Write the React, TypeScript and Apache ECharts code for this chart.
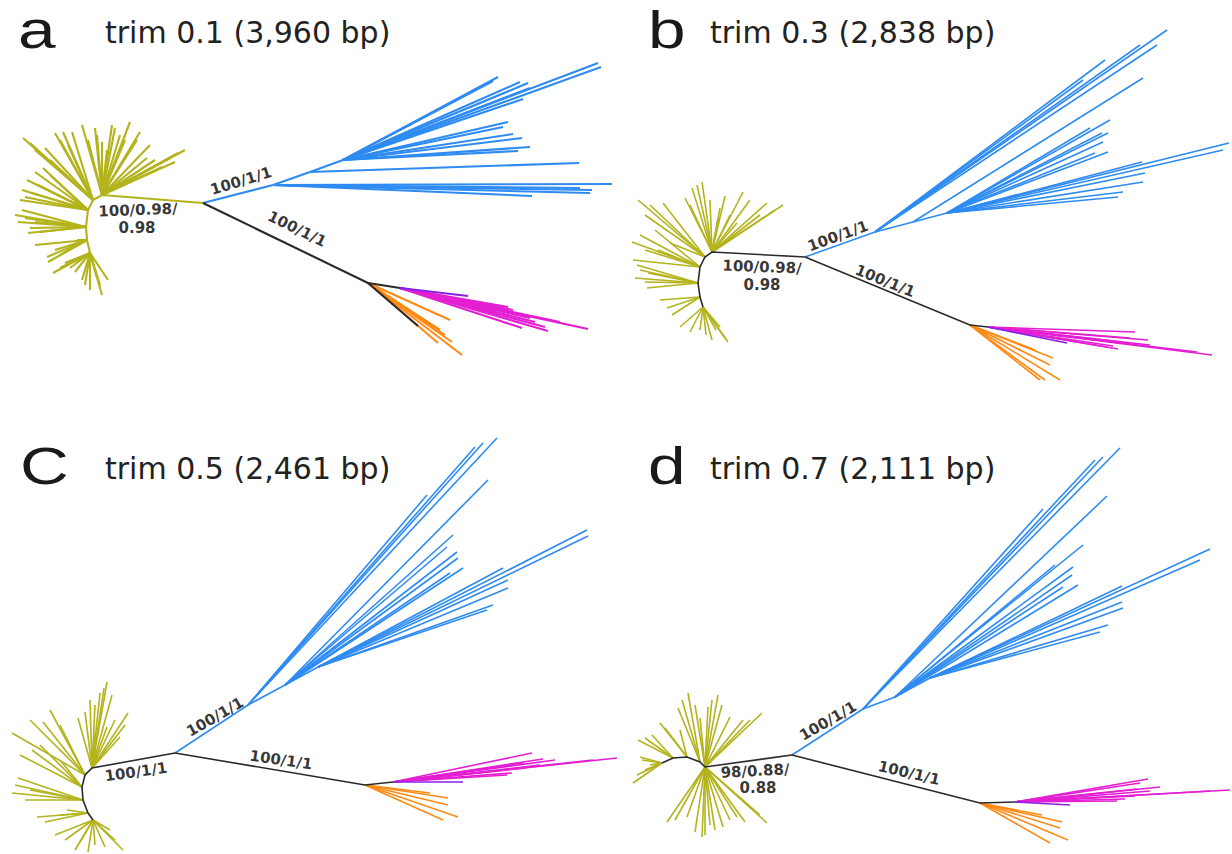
import React, { useEffect, useRef } from 'react';
import * as echarts from 'echarts';

// ---------- layout of the four panels (data ranges, image units) ----------
const PANEL_ORIGINS = [[0, 0], [616, 0], [0, 427], [616, 427]];
const PANEL_W = 616;
const PANEL_H = 427;
const PANEL_LETTERS = ['a', 'b', 'C', 'd'];
const PANEL_TITLES = ['trim 0.1 (3,960 bp)', 'trim 0.3 (2,838 bp)', 'trim 0.5 (2,461 bp)', 'trim 0.7 (2,111 bp)'];

const COLORS = {
  yellow: '#b3b31c',
  blue: '#2e8bf2',
  orange: '#ff8a14',
  pink: '#e41fd2',
  purple: '#8a1fe6',
  black: '#2a2a2a',
};

// ---------- panel a ----------
const A_MAIN = [203, 203];
const A_SPINE = [[102, 195], [93, 200], [88, 210], [86, 227], [87, 240], [90, 253]];
const A_YELLOW = [
  [0, 130, 122], [0, 140, 132], [0, 147, 158], [0, 185, 150], [0, 170, 158], [0, 162, 167], [0, 102, 142], [0, 107, 150],
  [0, 82, 125], [0, 97, 135], [0, 115, 128], [0, 125, 140], [0, 155, 160], [0, 178, 153], [0, 137, 140],
  [0, 120, 135], [0, 112, 125], [0, 150, 145], [0, 175, 162], [0, 95, 128], [0, 88, 140],
  [1, 55, 133], [1, 63, 132], [1, 72, 132], [1, 23, 138], [1, 45, 148], [1, 35, 150], [1, 50, 160],
  [1, 60, 140], [1, 30, 143], [1, 68, 145],
  [2, 43, 168], [2, 27, 180], [2, 32, 193], [2, 20, 200], [2, 38, 185], [2, 25, 197], [2, 50, 175], [2, 35, 172], [2, 22, 190],
  [3, 15, 215], [3, 22, 210], [3, 30, 228], [3, 28, 233], [3, 35, 222], [3, 40, 232], [3, 18, 222], [3, 25, 218],
  [4, 47, 257], [4, 77, 240], [4, 55, 250], [4, 48, 262], [4, 60, 255], [4, 35, 245],
  [5, 53, 273], [5, 65, 263], [5, 82, 280], [5, 102, 295], [5, 108, 280], [5, 97, 277], [5, 90, 290], [5, 75, 272],
  [5, 70, 268], [5, 85, 285], [5, 100, 285], [5, 60, 268],
];
const A_BLUE_NODES = [[273, 185], [310, 172], [343, 160]];
const A_BLUE = [
  [0, 612, 184], [0, 592, 190], [0, 590, 193], [0, 532, 196], [0, 580, 188],
  [1, 579, 163],
  [2, 508, 122], [2, 503, 127], [2, 513, 134], [2, 522, 138], [2, 530, 147], [2, 518, 151],
  [2, 498, 77], [2, 493, 81], [2, 520, 82], [2, 528, 83], [2, 530, 88], [2, 523, 99], [2, 598, 63], [2, 601, 67],
];
const A_PO = [368, 283];
const A_PINK_NODE = [400, 288];
const A_PINK = [[588, 329], [545, 327], [522, 328], [513, 310], [508, 307], [530, 318], [560, 322], [535, 322], [520, 315], [548, 331]];
const A_PURPLE = [[468, 296]];
const A_ORANGE = [[450, 320], [440, 330], [452, 342], [462, 355], [438, 343], [445, 335]];
const A_ORANGE_BLACK = [[418, 326]];
const A_LABELS = [['100/1/1', 241, 181, 17], ['100/0.98/', 138, 210, 2], ['0.98', 137, 228, 0], ['100/1/1', 297, 229, -26]];

// ---------- panel b ----------
const B_MAIN = [805, 257];
const B_SPINE = [[712, 252], [705, 257], [700, 267], [698, 283], [700, 297], [703, 307]];
const B_YELLOW = [
  [0, 702, 182], [0, 692, 188], [0, 720, 208], [0, 718, 218], [0, 743, 192], [0, 767, 203], [0, 783, 205], [0, 760, 215],
  [0, 737, 223], [0, 685, 198], [0, 697, 185], [0, 710, 200], [0, 725, 196], [0, 750, 200], [0, 775, 210], [0, 730, 215], [0, 690, 205],
  [1, 663, 203], [1, 638, 200], [1, 670, 243], [1, 650, 205], [1, 645, 215],
  [2, 655, 230], [2, 632, 242], [2, 658, 250], [2, 633, 260], [2, 640, 235], [2, 645, 250],
  [3, 640, 270], [3, 648, 273], [3, 635, 278], [3, 647, 288], [3, 637, 265], [3, 645, 282],
  [4, 667, 308], [4, 672, 315], [4, 660, 300],
  [5, 680, 327], [5, 700, 330], [5, 712, 340], [5, 728, 342], [5, 720, 327], [5, 690, 332], [5, 706, 335], [5, 716, 330], [5, 725, 338],
];
const B_BLUE_NODES = [[875, 232], [913, 222], [947, 213]];
const B_BLUE = [
  [0, 1167, 30], [0, 1157, 45], [0, 1140, 45], [0, 1105, 60], [0, 1083, 80],
  [1, 1143, 78],
  [2, 1110, 120], [2, 1090, 128], [2, 1102, 133], [2, 1108, 133], [2, 1103, 142], [2, 1108, 152], [2, 1095, 153],
  [2, 1142, 162], [2, 1145, 173], [2, 1143, 182], [2, 1123, 192], [2, 1118, 197], [2, 1229, 143], [2, 1223, 150],
];
const B_PO = [970, 325];
const B_PINK_NODE = [988, 327];
const B_PINK = [[1135, 332], [1148, 340], [1212, 355], [1197, 352], [1113, 346], [1107, 347], [1122, 342], [1150, 345], [1130, 338], [1118, 349]];
const B_PURPLE = [[1067, 343]];
const B_ORANGE = [[1053, 358], [1050, 365], [1060, 380], [1040, 380], [1045, 380], [1035, 350]];
const B_ORANGE_BLACK: number[][] = [];
const B_LABELS = [['100/1/1', 838, 236, 20], ['100/0.98/', 762, 267, -2], ['0.98', 762, 285, 0], ['100/1/1', 885, 281, -22]];

// ---------- panel c ----------
const C_MAIN = [175, 753];
const C_SPINE = [[92, 768], [85, 775], [82, 787], [83, 800], [88, 813], [93, 820]];
const C_YELLOW = [
  [0, 107, 682], [0, 90, 700], [0, 100, 693], [0, 128, 713], [0, 120, 737], [0, 107, 727], [0, 95, 733], [0, 78, 718],
  [0, 104, 688], [0, 112, 695], [0, 95, 705], [0, 85, 712], [0, 125, 725], [0, 115, 720],
  [1, 50, 710], [1, 43, 722], [1, 12, 733], [1, 30, 720], [1, 60, 725],
  [2, 32, 750], [2, 60, 760], [2, 40, 745], [2, 20, 755],
  [3, 18, 778], [3, 12, 793], [3, 25, 800], [3, 15, 785], [3, 30, 790],
  [4, 37, 817], [4, 67, 810], [4, 45, 822], [4, 60, 815],
  [5, 55, 835], [5, 75, 850], [5, 88, 852], [5, 105, 847], [5, 123, 850], [5, 110, 830], [5, 65, 840], [5, 95, 845], [5, 115, 840], [5, 80, 842],
];
const C_BLUE_NODES = [[248, 705], [285, 685], [318, 667]];
const C_BLUE = [
  [0, 497, 438], [0, 483, 443], [0, 475, 447], [0, 427, 495],
  [1, 488, 480], [1, 453, 535], [1, 447, 547], [1, 457, 552], [1, 458, 558], [1, 463, 568], [1, 450, 573],
  [2, 587, 530], [2, 588, 536], [2, 503, 568], [2, 508, 580], [2, 508, 588], [2, 493, 605], [2, 487, 610],
];
const C_PO = [365, 785];
const C_PINK_NODE = [393, 782];
const C_PINK = [[532, 753], [543, 759], [617, 758], [593, 760], [523, 763], [512, 773], [507, 775], [555, 760], [540, 765], [525, 768]];
const C_PURPLE = [[463, 782]];
const C_ORANGE = [[448, 798], [448, 805], [458, 817], [443, 820], [430, 793]];
const C_ORANGE_BLACK: number[][] = [];
const C_LABELS = [['100/1/1', 215, 717, 30], ['100/1/1', 136, 772, 8], ['100/1/1', 281, 760, -8]];

// ---------- panel d ----------
const D_MAIN = [792, 755];
const D_SPINE = [[705, 767], [700, 762], [687, 757], [673, 758], [662, 763]];
const D_YELLOW = [
  [0, 718, 695], [0, 708, 707], [0, 762, 713], [0, 743, 720], [0, 730, 717], [0, 700, 718], [0, 702, 837], [0, 723, 827],
  [0, 737, 817], [0, 767, 823], [0, 710, 825], [0, 753, 810], [0, 687, 817], [0, 667, 822],
  [0, 712, 700], [0, 722, 705], [0, 750, 720], [0, 695, 705], [0, 715, 830], [0, 695, 832], [0, 730, 820], [0, 745, 822],
  [0, 760, 815], [0, 675, 820], [0, 705, 835],
  [1, 688, 693], [1, 678, 708], [1, 682, 700],
  [2, 680, 730], [2, 660, 723], [2, 665, 728],
  [3, 652, 735], [3, 638, 740], [3, 645, 738],
  [4, 640, 757], [4, 633, 783], [4, 645, 770], [4, 650, 765], [4, 637, 775], [4, 642, 760],
];
const D_BLUE_NODES = [[863, 709], [895, 697], [930, 678]];
const D_BLUE = [
  [0, 1120, 448], [0, 1103, 457], [0, 1095, 460], [0, 1043, 509],
  [1, 1107, 496], [1, 1083, 545], [1, 1055, 565], [1, 1073, 567], [1, 1072, 575], [1, 1078, 585], [1, 1063, 587],
  [2, 1210, 549], [2, 1200, 560], [2, 1122, 586], [2, 1122, 602], [2, 1123, 608], [2, 1108, 625], [2, 1100, 632],
];
const D_PO = [980, 803];
const D_PINK_NODE = [1015, 802];
const D_PINK = [[1148, 779], [1160, 787], [1230, 790], [1210, 791], [1137, 789], [1125, 799], [1117, 801], [1140, 783], [1150, 791], [1135, 796]];
const D_PURPLE = [[1070, 805]];
const D_ORANGE = [[1062, 822], [1060, 828], [1068, 840], [1050, 843], [1042, 815]];
const D_ORANGE_BLACK: number[][] = [];
const D_LABELS = [['100/1/1', 828, 721, 30], ['98/0.88/', 755, 771, 3], ['0.88', 758, 788, 0], ['100/1/1', 909, 773, -13]];

const PANEL_SPECS = [
  { main: A_MAIN, spine: A_SPINE, spineColor: COLORS.yellow, yellow: A_YELLOW, blueNodes: A_BLUE_NODES, blue: A_BLUE, po: A_PO, pinkNode: A_PINK_NODE, pink: A_PINK, purple: A_PURPLE, orange: A_ORANGE, orangeBlack: A_ORANGE_BLACK, labels: A_LABELS, width: 2.1 },
  { main: B_MAIN, spine: B_SPINE, spineColor: COLORS.black, yellow: B_YELLOW, blueNodes: B_BLUE_NODES, blue: B_BLUE, po: B_PO, pinkNode: B_PINK_NODE, pink: B_PINK, purple: B_PURPLE, orange: B_ORANGE, orangeBlack: B_ORANGE_BLACK, labels: B_LABELS, width: 1.6 },
  { main: C_MAIN, spine: C_SPINE, spineColor: COLORS.black, yellow: C_YELLOW, blueNodes: C_BLUE_NODES, blue: C_BLUE, po: C_PO, pinkNode: C_PINK_NODE, pink: C_PINK, purple: C_PURPLE, orange: C_ORANGE, orangeBlack: C_ORANGE_BLACK, labels: C_LABELS, width: 1.6 },
  { main: D_MAIN, spine: D_SPINE, spineColor: COLORS.black, yellow: D_YELLOW, blueNodes: D_BLUE_NODES, blue: D_BLUE, po: D_PO, pinkNode: D_PINK_NODE, pink: D_PINK, purple: D_PURPLE, orange: D_ORANGE, orangeBlack: D_ORANGE_BLACK, labels: D_LABELS, width: 1.6 },
];

const LETTER_X = [18, 648, 20, 648];
const TITLE_X = [105, 710, 105, 710];
const ROW_SHIFT = [0, 0, 436, 436];

function linesSeries(i: number, data: any[], color: string, width: number, z: number, polyline = false) {
  return {
    type: 'lines',
    coordinateSystem: 'cartesian2d',
    xAxisIndex: i,
    yAxisIndex: i,
    polyline,
    silent: true,
    z,
    lineStyle: { color, width, opacity: 1, curveness: 0 },
    data,
  };
}

function buildOption() {
  const grid: any[] = [];
  const xAxis: any[] = [];
  const yAxis: any[] = [];
  const series: any[] = [];
  const title: any[] = [];
  const graphic: any[] = [];

  PANEL_SPECS.forEach((p, i) => {
    const [ox, oy] = PANEL_ORIGINS[i];
    grid.push({ left: ox, top: oy, width: PANEL_W, height: PANEL_H, containLabel: false });
    xAxis.push({ type: 'value', gridIndex: i, min: ox, max: ox + PANEL_W, show: false });
    yAxis.push({ type: 'value', gridIndex: i, min: oy, max: oy + PANEL_H, inverse: true, show: false });

    const w = p.width;
    series.push(linesSeries(i, p.yellow.map(([s, x, y]) => ({ coords: [p.spine[s], [x, y]] })), COLORS.yellow, w, 2));
    series.push(linesSeries(i, [{ coords: [p.main, ...p.spine] }], p.spineColor, w, 3, true));
    series.push(linesSeries(i, [{ coords: [p.main, ...p.blueNodes] }], COLORS.blue, w, 2, true));
    series.push(linesSeries(i, p.blue.map(([s, x, y]) => ({ coords: [p.blueNodes[s], [x, y]] })), COLORS.blue, w, 2));
    series.push(linesSeries(i, p.orange.map(([x, y]) => ({ coords: [p.po, [x, y]] })), COLORS.orange, w, 2));
    series.push(linesSeries(i, p.pink.map(([x, y]) => ({ coords: [p.pinkNode, [x, y]] })), COLORS.pink, w, 2));
    series.push(linesSeries(i, p.purple.map(([x, y]) => ({ coords: [p.pinkNode, [x, y]] })), COLORS.purple, w, 3));
    const blackData = [
      { coords: [p.main, p.po] },
      { coords: [p.po, p.pinkNode] },
      ...p.orangeBlack.map(([x, y]) => ({ coords: [p.po, [x, y]] })),
    ];
    series.push(linesSeries(i, blackData, COLORS.black, w, 4));
    series.push({
      type: 'scatter',
      xAxisIndex: i,
      yAxisIndex: i,
      symbolSize: 1,
      silent: true,
      z: 10,
      itemStyle: { color: 'rgba(0,0,0,0)' },
      label: {
        show: true,
        position: 'inside',
        formatter: '{b}',
        fontFamily: 'DejaVu Sans',
        fontWeight: 'bold',
        fontSize: 15,
        color: '#000',
      },
      data: p.labels.map(([t, x, y, r]) => ({ name: t, value: [x, y], label: { rotate: r } })),
    });

    graphic.push({
      type: 'text',
      x: LETTER_X[i],
      y: ROW_SHIFT[i] + 30,
      scaleX: 1.3,
      silent: true,
      style: {
        text: PANEL_LETTERS[i],
        font: '52px "Liberation Sans"',
        fill: '#1a1a1a',
        textAlign: 'left',
        align: 'left',
        textVerticalAlign: 'middle',
        verticalAlign: 'middle',
      },
    });
    title.push({
      text: PANEL_TITLES[i],
      left: TITLE_X[i],
      top: ROW_SHIFT[i] + 17,
      padding: 0,
      textStyle: { fontFamily: 'DejaVu Sans', fontWeight: 'normal', fontSize: 30, color: '#222', lineHeight: 30 },
    });
  });

  return { animation: false, backgroundColor: '#fff', grid, xAxis, yAxis, series, title, graphic };
}

export default function App() {
  const ref = useRef<HTMLDivElement>(null);
  useEffect(() => {
    document.body.style.margin = '0';
    const chart = echarts.init(ref.current!, null, { renderer: 'svg' });
    chart.setOption(buildOption() as any);
    return () => chart.dispose();
  }, []);
  return (
    <div
      ref={ref}
      style={{ position: 'absolute', left: 0, top: 0, width: 1232, height: 854, background: '#fff' }}
    />
  );
}
